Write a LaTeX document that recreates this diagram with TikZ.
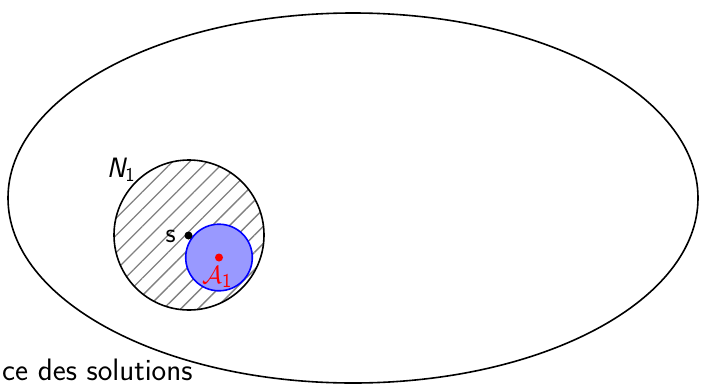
\documentclass[tikz,border=0pt]{standalone}
\usetikzlibrary{patterns.meta}
\begin{document}
\begin{tikzpicture}[x=1pt,y=-1pt,
  lbl/.style={font=\fontsize{28}{32}\selectfont\sffamily, inner sep=0pt},
  dot/.style={circle, fill, inner sep=0pt, minimum size=8pt}]
\useasboundingbox (0,0) rectangle (701,386);
% space
\draw[line width=1.6pt] (353,198) ellipse [x radius=345, y radius=185];
% neighbourhood
\draw[line width=1.6pt, pattern={Lines[angle=45,distance=12.2pt,line width=1.4pt]}, pattern color=gray]
  (189,235) circle [radius=75];
\node[lbl, anchor=base] (N) at (121,177) {\itshape N\textsubscript{\upshape 1}};
% attractor
\draw[line width=1.6pt, draw=blue, fill=blue!40] (219,257.5) circle [radius=33.3];
\node[dot, black] (s) at (188.5,235.5) {};
\node[lbl, anchor=base east] (sl) at (176,242) {s};
\node[dot, red] (a) at (219,257.5) {};
\node[lbl, text=red, anchor=base] (al) at (217,283) {$\mathcal{A}$\textsubscript{1}};
\node[lbl, font=\fontsize{31}{36}\selectfont\sffamily, anchor=base west] (t) at (2,380) {ce des solutions};
\end{tikzpicture}
\end{document}
